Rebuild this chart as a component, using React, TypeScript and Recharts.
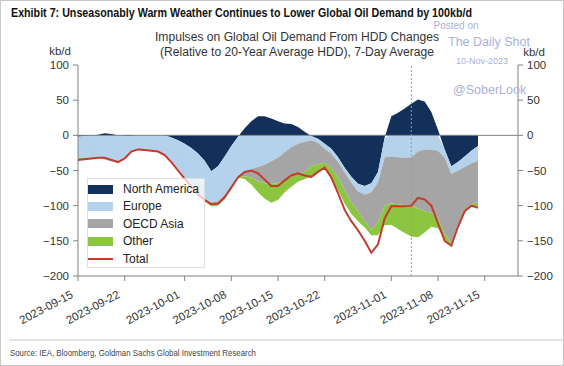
import React from 'react';
import { ComposedChart, Area, Line, XAxis, YAxis, ReferenceLine } from 'recharts';

// daily values from 2023-09-15, kb/d
const startDate = '2023-09-15';
const axisEndDate = '2023-11-20';
const markerDate = '2023-11-04';

const northAmerica = [
  -2, -1, 0, 1, 3, 2, 0, -1, -1, 0, 0, 0, 0, 0, -3, -7, -12, -18, -26, -36,
  -51, -44, -30, -15, -2, 10, 20, 27, 27, 24, 20, 17, 16, 12, 5, -1, -5, -12, -19, -31,
  -46, -59, -69, -72, -68, -52, -3, 27, 32, 38, 45, 51, 48, 33, 8, -20, -44, -38, -30, -22,
  -15,
];
const europe = [
  -30, -31, -32, -32, -35, -37, -38, -32, -22, -20, -21, -22, -23, -28, -35, -43, -49, -54, -56, -54,
  -44, -50, -55, -57, -55, -52, -48, -45, -42, -37, -32, -24, -17, -12, -9, -6, -6, -7, -7, -7,
  -7, -8, -11, -12, -13, -15, -28, -30, -31, -32, -31, -23, -20, -20, -22, -12, -11, -12, -15, -18,
  -21,
];
const oecdAsia = [
  0, 0, 0, 0, 0, 0, 0, 0, 0, 0, 0, 0, 0, 0, 0, 0, -1, -1, -2, -2,
  -3, -3, -3, -2, -2, -6, -12, -20, -26, -32, -36, -40, -42, -42, -43, -37, -30, -20, -20, -22,
  -25, -28, -28, -38, -53, -57, -69, -67, -67, -67, -69, -81, -88, -90, -96, -108, -98, -77, -61, -58,
  -59,
];
const other = [
  -3, -2, -1, 0, 0, 0, 0, 0, 0, 0, 0, 0, 0, 0, 0, 0, -1, -1, -2, -2,
  -3, -3, -3, -2, -1, -4, -10, -16, -22, -27, -24, -17, -14, -12, -10, -15, -11, -7, -14, -18,
  -19, -17, -14, -9, -8, -18, -28, -30, -35, -40, -44, -41, -30, -20, -14, -8, -4, -4, -4, -3,
  -6,
];
const total = [
  -35, -34, -33, -32, -32, -35, -38, -33, -23, -20, -21, -22, -23, -28, -38, -50, -62, -73, -84, -92,
  -98, -97, -88, -74, -60, -52, -50, -54, -63, -72, -72, -64, -57, -54, -57, -59, -52, -46, -60, -82,
  -106, -122, -135, -150, -167, -155, -118, -101, -101, -101, -100, -89, -91, -100, -125, -150, -157, -130, -108, -100,
  -103,
];

const tickLabels = [
  '2023-09-15', '2023-09-22', '2023-10-01', '2023-10-08', '2023-10-15',
  '2023-10-22', '2023-11-01', '2023-11-08', '2023-11-15',
];
const yTicks = [-200, -150, -100, -50, 0, 50, 100];

const series = [
  { key: 'na', name: 'North America', color: '#13305b' },
  { key: 'europe', name: 'Europe', color: '#b5d2ec' },
  { key: 'oecd', name: 'OECD Asia', color: '#a5a5a5' },
  { key: 'other', name: 'Other', color: '#8cc540' },
];
const totalColor = '#c23b2e';

const dayOf = (s: string) => Math.round((Date.parse(s) - Date.parse(startDate)) / 86400000);
const xTicks = tickLabels.map(dayOf);

const data = total.map((t, i) => ({
  day: i,
  na: northAmerica[i],
  europe: europe[i],
  oecd: oecdAsia[i],
  other: other[i],
  total: t,
}));

const font = "'Liberation Sans', Arial, sans-serif";
const axisGrey = '#808080';
const minus = (v: number) => String(v).replace('-', '\u2212');

const DateTick = (props: any) => {
  const { x, y, payload } = props;
  const label = tickLabels[xTicks.indexOf(payload.value)];
  return (
    <g transform={`translate(${x - 4},${y + 14}) rotate(-28)`}>
      <text x={0} y={0} textAnchor="end" fontSize={11.5} fill="#333" fontFamily={font}>
        {label}
      </text>
    </g>
  );
};

const ValueTick = (props: any) => {
  const { x, y, payload, textAnchor } = props;
  return (
    <text x={x} y={y} dy={4} textAnchor={textAnchor} fontSize={11.5} fill="#333" fontFamily={font}>
      {minus(payload.value)}
    </text>
  );
};

export default function App() {
  return (
    <div style={{ position: 'absolute', left: 0, top: 0, width: 564, height: 366, background: '#fff', fontFamily: font }}>
      <div style={{ position: 'absolute', left: 0, top: 0 }}>
        <ComposedChart
          width={564}
          height={340}
          data={data}
          stackOffset="sign"
          margin={{ top: 65, right: 0, left: 0, bottom: 0 }}
        >
          <XAxis
            dataKey="day"
            type="number"
            domain={[0, dayOf(axisEndDate)]}
            ticks={xTicks}
            tick={<DateTick />}
            height={64}
            axisLine={{ stroke: axisGrey }}
            tickLine={{ stroke: axisGrey }}
            tickSize={5}
            interval={0}
          />
          <YAxis
            type="number"
            domain={[-200, 100]}
            ticks={yTicks}
            interval={0}
            width={78}
            axisLine={{ stroke: axisGrey }}
            tickLine={{ stroke: axisGrey }}
            tickSize={5}
            tickMargin={4}
            tick={<ValueTick />}
          />
          <YAxis
            yAxisId="right"
            type="number"
            orientation="right"
            domain={[-200, 100]}
            ticks={yTicks}
            interval={0}
            width={46}
            axisLine={{ stroke: axisGrey }}
            tickLine={{ stroke: axisGrey }}
            tickSize={5}
            tickMargin={4}
            tick={<ValueTick />}
          />
          {series.map((s) => (
            <Area
              key={s.key}
              dataKey={s.key}
              name={s.name}
              stackId="impulse"
              type="linear"
              fill={s.color}
              fillOpacity={1}
              stroke="none"
              isAnimationActive={false}
              activeDot={false}
            />
          ))}
          <ReferenceLine y={0} stroke="#7f7f7f" />
          <ReferenceLine x={dayOf(markerDate)} stroke="#9a9a9a" strokeDasharray="2 2" />
          {/* same scale on both sides; the total rides on the right axis */}
          <Line
            yAxisId="right"
            dataKey="total"
            name="Total"
            type="linear"
            stroke={totalColor}
            strokeWidth={2}
            dot={false}
            activeDot={false}
            isAnimationActive={false}
          />
        </ComposedChart>
      </div>
      <svg width={564} height={366} style={{ position: 'absolute', left: 0, top: 0, pointerEvents: 'none' }}>
        <rect x={0.5} y={0.5} width={563} height={365} fill="none" stroke="#c8c8c8" />
        {/* condensed bold title: small font squeezed to width, stretched back up in height */}
        <g transform="translate(0,17) scale(1,1.25) translate(0,-17)">
          <text x={11} y={17} fontSize={10.5} fontWeight="bold" fill="#111" textLength={461} lengthAdjust="spacingAndGlyphs">
            Exhibit 7: Unseasonably Warm Weather Continues to Lower Global Oil Demand by 100kb/d
          </text>
        </g>
        <text x={297} y={41} fontSize={12} fill="#333" textAnchor="middle" textLength={284} lengthAdjust="spacingAndGlyphs">
          Impulses on Global Oil Demand From HDD Changes
        </text>
        <text x={297} y={56} fontSize={12} fill="#333" textAnchor="middle" textLength={274} lengthAdjust="spacingAndGlyphs">
          (Relative to 20-Year Average HDD), 7-Day Average
        </text>
        <text x={60} y={55} fontSize={11.5} fill="#333" textAnchor="middle">kb/d</text>
        <text x={534} y={56} fontSize={11.5} fill="#333" textAnchor="middle">kb/d</text>
        <text x={456} y={29} fontSize={10} fill="#aab0da" textAnchor="middle">Posted on</text>
        <text x={489} y={46} fontSize={12.5} fill="#aab0da" textAnchor="middle">The Daily Shot</text>
        <text x={482} y={64} fontSize={9} fill="#aab0da" textAnchor="middle">10-Nov-2023</text>
        <text x={453} y={94} fontSize={12.5} fill="#aab0da">@SoberLook</text>
        <line x1={9} x2={564} y1={340} y2={340} stroke="#c8c8c8" />
        <text x={10} y={355.5} fontSize={9.5} fill="#444" textLength={246} lengthAdjust="spacingAndGlyphs">
          Source: IEA, Bloomberg, Goldman Sachs Global Investment Research
        </text>
      </svg>
      <div
        style={{
          position: 'absolute',
          left: 87,
          top: 178,
          width: 118,
          height: 90,
          background: 'rgba(255,255,255,0.72)',
          border: '1px solid rgba(215,215,215,0.8)',
          boxSizing: 'border-box',
        }}
      >
        {[...series, { key: 'total', name: 'Total', color: totalColor }].map((s, i) => (
          <div key={s.key} style={{ position: 'absolute', left: 0, top: 4 + i * 17.4, height: 12, display: 'flex', alignItems: 'center' }}>
            {s.key === 'total' ? (
              <div style={{ width: 25, height: 2, background: s.color }} />
            ) : (
              <div style={{ width: 25, height: 9, background: s.color }} />
            )}
            <span style={{ marginLeft: 10, fontSize: 12, color: '#222', whiteSpace: 'nowrap' }}>{s.name}</span>
          </div>
        ))}
      </div>
    </div>
  );
}
